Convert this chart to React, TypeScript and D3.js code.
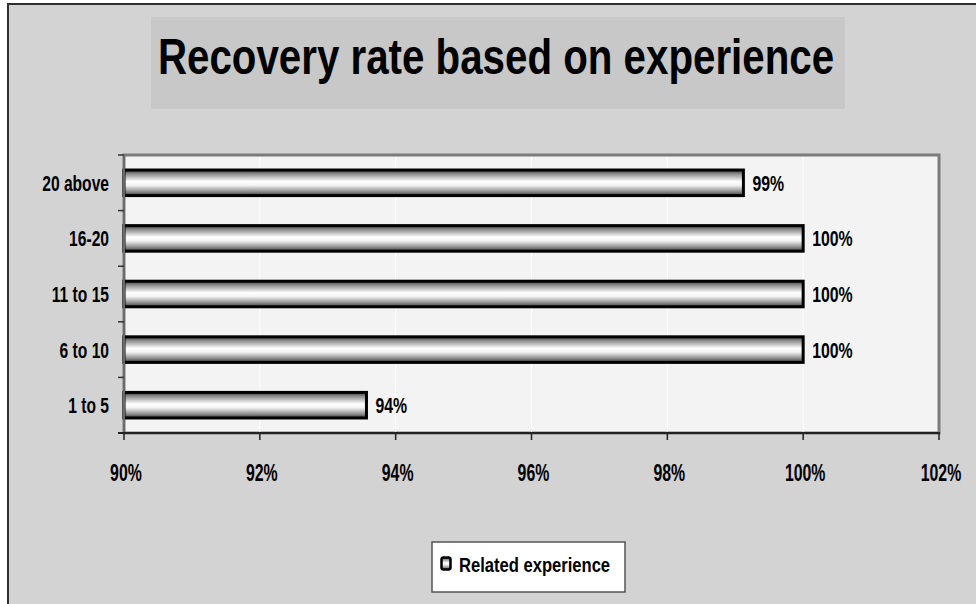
import React from "react";
import * as d3 from "d3";

// Experience brackets (years) and recovery rates
const categories = ["1 to 5", "6 to 10", "11 to 15", "16-20", "20 above"];
const recoveryRates = [0.9357, 1.0, 1.0, 1.0, 0.9912];
const xTicks = [0.9, 0.92, 0.94, 0.96, 0.98, 1.0, 1.02];
const seriesName = "Related experience";
const chartTitle = "Recovery rate based on experience";

const W = 976;
const H = 604;
const plot = { left: 124, right: 939, top: 155, bottom: 433 };
const FONT = "'Liberation Sans', Arial, sans-serif";

// Bold lettering squeezed horizontally to a narrow face
function Squeezed({ x, y, anchor = "start", size, sx = 0.72, children }: any) {
  return (
    <g transform={`translate(${x},${y}) scale(${sx},1)`}>
      <text
        x={0}
        y={0}
        textAnchor={anchor}
        fontFamily={FONT}
        fontWeight="bold"
        fontSize={size}
        fill="#000"
      >
        {children}
      </text>
    </g>
  );
}

export default function App() {
  const x = d3.scaleLinear().domain([0.9, 1.02]).range([plot.left, plot.right]);
  const y = d3
    .scaleBand<string>()
    .domain([...categories].reverse())
    .range([plot.top, plot.bottom])
    .paddingInner(0.54)
    .paddingOuter(0.27);
  const fmt = d3.format(".0%");
  const step = (plot.bottom - plot.top) / categories.length;
  const bandEdges = d3.range(categories.length + 1).map((i) => plot.top + i * step);

  return (
    <svg
      width={W}
      height={H}
      style={{ position: "absolute", left: 0, top: 0, background: "#fff" }}
    >
      <defs>
        <linearGradient id="barShade" x1="0" y1="0" x2="0" y2="1">
          <stop offset="0" stopColor="#3c3c3c" />
          <stop offset="0.15" stopColor="#8c8c8c" />
          <stop offset="0.45" stopColor="#ffffff" />
          <stop offset="0.6" stopColor="#f2f2f2" />
          <stop offset="0.85" stopColor="#8a8a8a" />
          <stop offset="1" stopColor="#3a3a3a" />
        </linearGradient>
      </defs>

      {/* chart area */}
      <rect x={8} y={4} width={1000} height={640} fill="#d3d3d3" stroke="#2e2e2e" strokeWidth={2} />

      {/* title */}
      <rect x={151} y={17} width={694} height={92} fill="#c8c8c8" />
      <Squeezed x={496} y={74} anchor="middle" size={50} sx={0.806}>
        {chartTitle}
      </Squeezed>

      {/* plot area */}
      <rect
        x={plot.left}
        y={plot.top}
        width={plot.right - plot.left}
        height={plot.bottom - plot.top}
        fill="#f3f3f3"
        stroke="#7c7c7c"
        strokeWidth={3}
      />
      {xTicks.slice(1, -1).map((t) => (
        <line key={t} x1={x(t)} x2={x(t)} y1={plot.top + 2} y2={plot.bottom} stroke="#ffffff" strokeWidth={1} />
      ))}

      {/* bars */}
      {categories.map((c, i) => {
        const y0 = y(c)!;
        const bw = y.bandwidth();
        const v = recoveryRates[i];
        return (
          <g key={c}>
            <rect
              x={x(0.9)}
              y={y0}
              width={x(v) - x(0.9)}
              height={bw}
              fill="url(#barShade)"
              stroke="#000"
              strokeWidth={3}
            />
            <Squeezed x={x(v) + 9} y={y0 + bw / 2 + 8} size={22} sx={0.72}>
              {fmt(v)}
            </Squeezed>
            <Squeezed x={109} y={y0 + bw / 2 + 8} anchor="end" size={22} sx={0.71}>
              {c}
            </Squeezed>
          </g>
        );
      })}

      {/* axes */}
      <line x1={plot.left} x2={plot.left} y1={plot.top} y2={plot.bottom} stroke="#6a6a6a" strokeWidth={2} />
      {bandEdges.map((e, i) => (
        <line key={i} x1={plot.left - 6} x2={plot.left} y1={e} y2={e} stroke="#333" strokeWidth={1.5} />
      ))}
      <line x1={plot.left - 6} x2={plot.right + 1} y1={plot.bottom} y2={plot.bottom} stroke="#222" strokeWidth={2} />
      {xTicks.map((t) => (
        <g key={t}>
          <line x1={x(t)} x2={x(t)} y1={plot.bottom} y2={plot.bottom + 7} stroke="#222" strokeWidth={1.5} />
          <Squeezed x={x(t) + 2} y={481} anchor="middle" size={23} sx={0.69}>
            {fmt(t)}
          </Squeezed>
        </g>
      ))}

      {/* legend */}
      <rect x={432} y={542} width={193} height={50} fill="#ffffff" stroke="#555" strokeWidth={1.5} />
      <rect x={441.5} y={557.5} width={9} height={12} rx={2} fill="url(#barShade)" stroke="#000" strokeWidth={2.5} />
      <Squeezed x={459} y={572} size={21} sx={0.79}>
        {seriesName}
      </Squeezed>
    </svg>
  );
}
